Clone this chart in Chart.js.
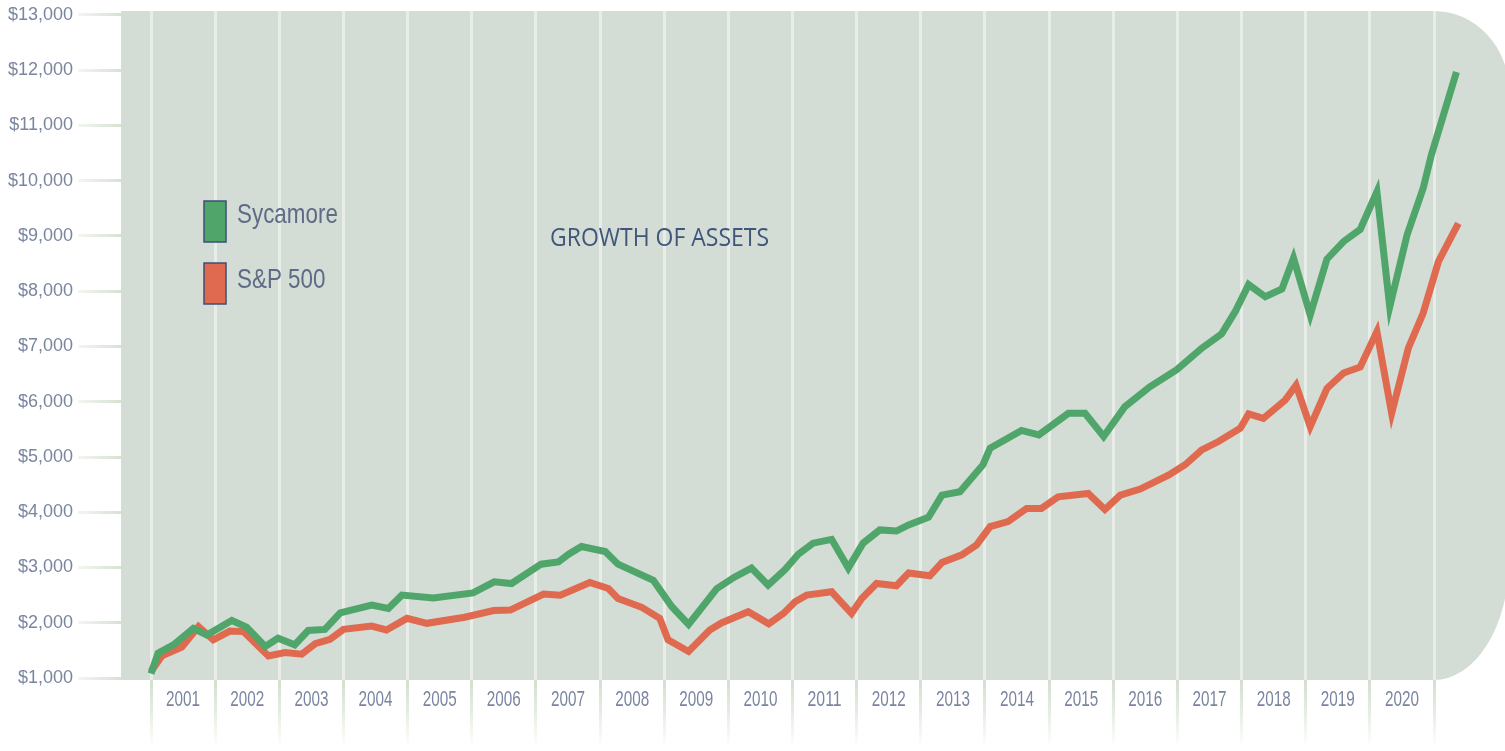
<!DOCTYPE html>
<html>
<head>
<meta charset="utf-8">
<script src="https://cdn.jsdelivr.net/npm/chart.js@4/dist/chart.umd.min.js"></script>
<style>
html,body{margin:0;padding:0;background:#ffffff;overflow:hidden}
canvas{display:block}
</style>
</head>
<body>
<canvas id="c" width="1505" height="751"></canvas>
<script>
// ---------- data ----------
const chartTitle = 'GROWTH OF ASSETS';
const seriesNames = ['Sycamore', 'S&P 500'];
const yearLabels = [2001,2002,2003,2004,2005,2006,2007,2008,2009,2010,2011,2012,2013,2014,2015,2016,2017,2018,2019,2020];
const yTickValues = [1000,2000,3000,4000,5000,6000,7000,8000,9000,10000,11000,12000,13000];

const sycamoreDates = [2001.00,2001.11,2001.35,2001.66,2001.87,2002.26,2002.49,2002.78,2002.98,2003.24,
  2003.45,2003.71,2003.95,2004.44,2004.70,2004.91,2005.40,2006.02,2006.35,2006.62,
  2007.08,2007.35,2007.51,2007.71,2008.08,2008.28,2008.83,2009.12,2009.38,2009.82,
  2010.10,2010.36,2010.62,2010.88,2011.09,2011.32,2011.61,2011.87,2012.10,2012.36,
  2012.62,2012.81,2013.12,2013.33,2013.61,2013.97,2014.08,2014.57,2014.84,2015.30,
  2015.56,2015.85,2016.18,2016.57,2016.99,2017.38,2017.69,2017.90,2018.11,2018.37,
  2018.63,2018.81,2019.07,2019.33,2019.59,2019.85,2020.11,2020.31,2020.58,2020.83,
  2020.96,2021.35];
const sycamoreValues = [1080,1450,1600,1900,1780,2040,1920,1570,1720,1600,
  1860,1880,2180,2320,2260,2500,2450,2540,2740,2710,
  3060,3100,3240,3380,3290,3060,2770,2290,1970,2620,
  2830,2990,2680,2960,3240,3440,3510,2990,3440,3680,
  3660,3770,3910,4310,4370,4860,5160,5480,5400,5790,
  5790,5370,5910,6270,6580,6970,7230,7630,8120,7900,
  8040,8600,7570,8580,8900,9120,9800,7720,9020,9860,
  10470,11970];

const sp500Dates = [2001.00,2001.17,2001.48,2001.74,2001.97,2002.23,2002.44,2002.83,2003.09,2003.35,
  2003.56,2003.79,2004.00,2004.44,2004.67,2004.99,2005.30,2005.89,2006.34,2006.60,
  2007.12,2007.38,2007.84,2008.13,2008.28,2008.65,2008.93,2009.06,2009.38,2009.71,
  2009.90,2010.31,2010.63,2010.86,2011.04,2011.22,2011.61,2011.92,2012.08,2012.31,
  2012.62,2012.81,2013.14,2013.33,2013.64,2013.87,2014.08,2014.36,2014.65,2014.88,
  2015.14,2015.61,2015.87,2016.11,2016.42,2016.86,2017.12,2017.38,2017.64,2017.98,
  2018.11,2018.34,2018.68,2018.85,2019.07,2019.33,2019.59,2019.85,2020.11,2020.34,
  2020.60,2020.83,2021.07,2021.38];
const sp500Values = [1120,1400,1560,1930,1690,1850,1840,1400,1460,1430,
  1620,1700,1880,1940,1870,2080,1990,2100,2220,2230,
  2520,2500,2730,2620,2440,2280,2080,1690,1480,1870,
  2000,2200,1980,2170,2380,2500,2560,2170,2440,2710,
  2670,2900,2850,3090,3230,3410,3740,3830,4070,4070,
  4280,4340,4050,4310,4420,4670,4860,5130,5280,5520,
  5780,5700,6030,6300,5550,6240,6520,6630,7270,5790,
  6970,7600,8540,9230];

// ---------- styles ----------
const GREEN = '#4fa56a';
const ORANGE = '#e06a4f';
const PLOT_BG = '#d3ddd5';
const GRID_COLOR = '#e8ede8';
const LABEL_COLOR = '#7a86a0';
const LEGEND_TEXT = '#5d6b87';
const TITLE_COLOR = '#3f5579';

const toPoints = (xs, ys) => xs.map((x, i) => ({x: x, y: ys[i]}));

const plotBgPlugin = {
  id: 'plotBg',
  beforeDraw(chart) {
    const c = chart.ctx, a = chart.chartArea;
    const xr = chart.scales.x.getPixelForValue(yearLabels[yearLabels.length - 1] + 1);
    c.save();
    c.fillStyle = '#ffffff';
    c.fillRect(0, 0, chart.width, chart.height);
    c.fillStyle = PLOT_BG;
    c.beginPath();
    c.moveTo(a.left, a.top);
    c.lineTo(xr, a.top);
    c.ellipse(xr, a.top + 80, 75, 80, 0, -Math.PI / 2, 0);
    c.lineTo(xr + 75, a.bottom - 120);
    c.ellipse(xr, a.bottom - 120, 75, 120, 0, 0, Math.PI / 2);
    c.lineTo(a.left, a.bottom);
    c.closePath();
    c.fill();
    c.restore();
    // condensed year labels (the reference uses a narrow face)
    const items = chart.scales.x.getLabelItems(a);
    items.forEach(it => { it.options.maxWidth = 34; });
  }
};

const overlayPlugin = {
  id: 'overlay',
  afterDraw(chart) {
    const c = chart.ctx;
    c.save();
    // title
    c.font = '26px "Open Sans", "Liberation Sans", sans-serif';
    c.fillStyle = TITLE_COLOR;
    c.textAlign = 'center';
    c.textBaseline = 'alphabetic';
    c.fillText(chartTitle, 659.5, 246, 219);
    // legend
    const boxTops = [201, 263];
    const baselines = [223, 288];
    chart.data.datasets.forEach((ds, i) => {
      c.fillStyle = ds.borderColor;
      c.fillRect(204, boxTops[i], 22, 41);
      c.strokeStyle = '#3e4f74';
      c.lineWidth = 1.5;
      c.strokeRect(204, boxTops[i], 22, 41);
      c.save();
      c.translate(237, baselines[i]);
      c.scale(0.8, 1);
      c.font = '28px "Liberation Sans", Arial, sans-serif';
      c.fillStyle = LEGEND_TEXT;
      c.textAlign = 'left';
      c.fillText(ds.label, 0, 0);
      c.restore();
    });
    c.restore();
  }
};

const xTickGradient = (ctx) => {
  const ch = ctx.chart, a = ch.chartArea;
  if (!a) return '#d4e0d1';
  const g = ch.ctx.createLinearGradient(0, a.bottom, 0, a.bottom + 68);
  g.addColorStop(0, '#d2dfcf');
  g.addColorStop(0.5, '#e6eee4');
  g.addColorStop(1, '#ffffff');
  return g;
};
const yTickGradient = (ctx) => {
  const ch = ctx.chart, a = ch.chartArea;
  if (!a) return '#d4e0d1';
  const g = ch.ctx.createLinearGradient(a.left - 43, 0, a.left, 0);
  g.addColorStop(0, '#f3f6f2');
  g.addColorStop(1, '#d6e2d3');
  return g;
};

new Chart(document.getElementById('c').getContext('2d'), {
  type: 'line',
  data: {
    datasets: [
      {label: seriesNames[0], data: toPoints(sycamoreDates, sycamoreValues), borderColor: GREEN, backgroundColor: GREEN,
       borderWidth: 7, pointRadius: 0, tension: 0, fill: false, borderJoinStyle: 'miter', borderCapStyle: 'butt'},
      {label: seriesNames[1], data: toPoints(sp500Dates, sp500Values), borderColor: ORANGE, backgroundColor: ORANGE,
       borderWidth: 7, pointRadius: 0, tension: 0, fill: false, borderJoinStyle: 'miter', borderCapStyle: 'butt'}
    ]
  },
  options: {
    responsive: false,
    animation: false,
    devicePixelRatio: 1,
    layout: {padding: {top: 11, right: 5, bottom: 0, left: 0}},
    plugins: {legend: {display: false}, tooltip: {enabled: false}, title: {display: false}},
    scales: {
      x: {
        type: 'linear',
        min: 2000.5323,
        max: 2022.0288,
        afterBuildTicks: s => { s.ticks = yearLabels.map(y => ({value: y + 0.5})); },
        afterFit: s => { s.height = 71; s.paddingLeft = 0; s.paddingRight = 0; },
        grid: {offset: true, color: GRID_COLOR, lineWidth: 3, drawTicks: true, tickLength: 68, tickWidth: 3, tickColor: xTickGradient},
        border: {display: false},
        ticks: {
          color: LABEL_COLOR, autoSkip: false, maxRotation: 0, minRotation: 0, padding: -61,
          font: {family: "'Liberation Sans', Arial, sans-serif", size: 22},
          callback: v => String(Math.floor(v))
        }
      },
      y: {
        min: 964,
        max: 13072,
        afterBuildTicks: s => { s.ticks = yTickValues.map(v => ({value: v})); },
        afterFit: s => { s.width = 121; s.paddingTop = 0; s.paddingBottom = 0; },
        grid: {drawOnChartArea: false, drawTicks: true, tickLength: 43, tickWidth: 3, tickColor: yTickGradient},
        border: {display: false},
        ticks: {
          color: LABEL_COLOR, padding: 5,
          font: {family: "'Liberation Sans', Arial, sans-serif", size: 18},
          callback: v => '$' + Number(v).toLocaleString('en-US')
        }
      }
    }
  },
  plugins: [plotBgPlugin, overlayPlugin]
});
</script>
</body>
</html>
